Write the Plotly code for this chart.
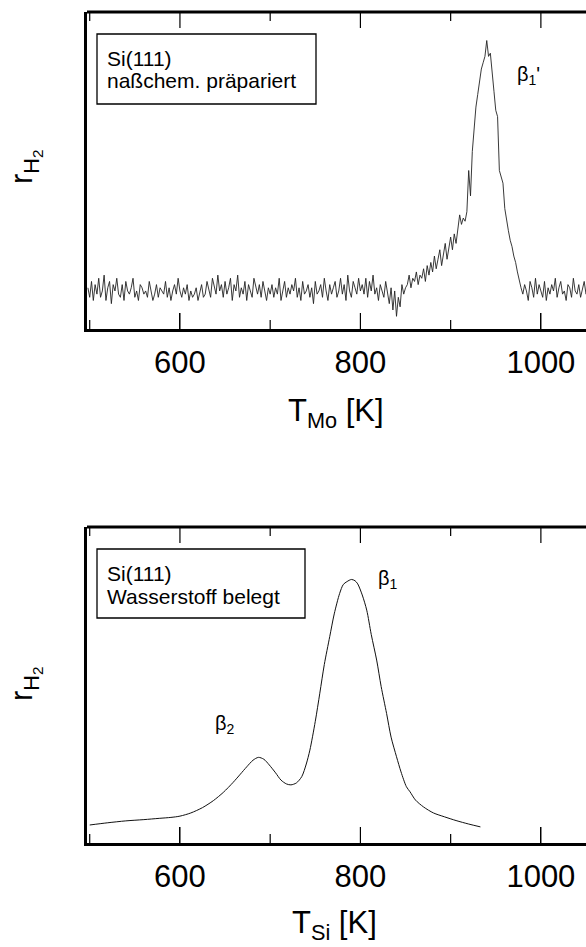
import plotly.graph_objects as go

# ---------------- data ----------------
# top panel: Si(111) wet-chemically prepared, T_Mo [K], sampled every 2 K
top_start = 498
top_step = 2
top_seg_a = [13,10,15,9,14,11,16,10,12,17,9,13,15,8,14,12,16,11,10,14,9,15,12,11,13,16,
             10,12,9,14,13,11,12,10,15,12,9,11,14,10,13,12,11,15,10,13,9,12,14,11,16,12]
top_seg_b = [10,13,11,14,9,12,10,11,13,9,12,14,10,11,15,12,10,16,13,11,17,12,14,10,15,
             11,13,16,9,14,12,17,10,13,11,15,9,14,12,10,16,13,11,14,10,15,12,9,13,11]
top_seg_c = [14,10,13,11,16,9,12,15,10,13,11,14,12,16,10,13,9,15,11,12,14,10,13,8,15,
             11,12,14,10,16,12,9,14,11,13,15,10,12,16,11,14,9,17,12,10,15,13,11,16,12]
top_seg_d = [14,11,16,10,15,12,17,11,13,9,14,12,10,15,11,8,13,6,12,4,10,7,14,11,13]
top_seg_e = [14,17,13,16,15,18,14,17,16,19,15,20,17,21,18,23,19,22,25,20,24,27,22,26,
             29,25,30,27,32,36,33,35,34,37,50,42,56,63,70,74,78,82,84,86,91,86,87,82,
             75,69,67,50,48,46,38,34,31,28,26,23,21,18,15,13]
top_seg_f = [11,14,12,9,15,13,10,16,11,14,12,10,15,9,13,11,14,12,16,10,13,15,11,12,9,
             14,13,10,16,12,11,14,10,13,15,11,12,14,10,13,12]
top_y = top_seg_a + top_seg_b + top_seg_c + top_seg_d + top_seg_e + top_seg_f
top_x = [top_start + top_step * i for i in range(len(top_y))]

# bottom panel: Si(111) hydrogen covered, T_Si [K]
bot_x = [500, 520, 540, 560, 577, 590, 600, 612, 625, 637, 648, 659, 667, 674, 681, 687,
         693, 699, 706, 712, 718, 723, 729, 735, 740, 744, 750, 755, 760, 766, 771, 777,
         781, 785, 790, 794, 797, 802, 807, 812, 818, 823, 829, 834, 840, 845, 851, 855,
         861, 870, 881, 893, 906, 920, 933]
bot_y = [5.7, 6.4, 7.0, 7.4, 7.8, 8.1, 8.5, 9.5, 11.2, 13.4, 16.0, 19.2, 21.8, 24.1, 26.2, 27.1,
         26.5, 24.7, 22.2, 19.9, 18.7, 18.4, 19.0, 21.0, 25.0, 29.4, 38.5, 47.4, 56.5, 65.3, 72.5, 79.0,
         81.8, 82.7, 83.4, 83.0, 82.0, 78.5, 73.7, 66.0, 57.9, 49.5, 41.0, 33.5, 27.3, 22.5, 17.8, 16.2,
         13.6, 11.4, 9.5, 8.3, 7.1, 6.0, 5.1]

x_range = [497, 1050]
major_ticks = [600, 800, 1000]
minor_ticks = [500, 700, 900]
top_title = "T<sub>Mo</sub> [K]"
bot_title = "T<sub>Si</sub> [K]"
y_title = "r<sub>H<sub>2</sub></sub>"
top_box = ["Si(111)", "naßchem. präpariert"]
bot_box = ["Si(111)", "Wasserstoff belegt"]

# ---------------- layout helpers ----------------
W, H = 586, 947
FONT = "Liberation Sans, Arial, sans-serif"

def px(x):
    return x / W

def py(y):
    return 1 - y / H

PANELS = [(12, 329), (527, 843)]          # pixel top / bottom of each frame
top_dom = [py(329), py(12)]
bot_dom = [py(843), py(527)]
xdom = [px(87), 1]

fig = go.Figure()
fig.add_trace(go.Scatter(x=top_x, y=top_y, mode="lines", xaxis="x", yaxis="y",
                         line=dict(color="#222", width=0.9), showlegend=False))
fig.add_trace(go.Scatter(x=bot_x, y=bot_y, mode="lines", xaxis="x2", yaxis="y2",
                         line=dict(color="#111", width=1, shape="spline", smoothing=0.8),
                         showlegend=False))

xax = dict(range=x_range, showline=True, linewidth=3, linecolor="black",
           ticks="inside", ticklen=16, tickcolor="black",
           tickvals=major_ticks, ticklabelstandoff=4,
           tickfont=dict(family=FONT, size=31, color="black"),
           showgrid=False, zeroline=False)
yax = dict(range=[0, 100], showline=True, linewidth=3, linecolor="black", mirror=False,
           showticklabels=False, showgrid=False, zeroline=False)

fig.update_layout(
    width=W, height=H, margin=dict(l=0, r=0, t=0, b=0),
    paper_bgcolor="white", plot_bgcolor="white",
    xaxis=dict(xax, domain=xdom, anchor="y"),
    yaxis=dict(yax, domain=top_dom, anchor="x"),
    xaxis2=dict(xax, domain=xdom, anchor="y2"),
    yaxis2=dict(yax, domain=bot_dom, anchor="x2"),
)

shapes = []
# top frame line + all tick marks, x placed on the data axis scale
for xr, (ytop, ybot) in zip(["x", "x2"], PANELS):
    shapes.append(dict(type="line", xref="paper", yref="paper", x0=xdom[0], x1=1,
                       y0=py(ytop), y1=py(ytop), line=dict(color="black", width=3)))
    for v in major_ticks:
        shapes.append(dict(type="line", xref=xr, yref="paper", x0=v, x1=v,
                           y0=py(ytop), y1=py(ytop + 16), line=dict(color="black", width=1.2)))
        shapes.append(dict(type="line", xref=xr, yref="paper", x0=v, x1=v,
                           y0=py(ybot), y1=py(ybot - 16), line=dict(color="black", width=1.2)))
    for v in minor_ticks:
        shapes.append(dict(type="line", xref=xr, yref="paper", x0=v, x1=v,
                           y0=py(ytop), y1=py(ytop + 9), line=dict(color="black", width=1.2)))
        shapes.append(dict(type="line", xref=xr, yref="paper", x0=v, x1=v,
                           y0=py(ybot), y1=py(ybot - 9), line=dict(color="black", width=1.2)))

ann = []
def text(x, y, s, size, **kw):
    d = dict(x=px(x), y=py(y), xref="paper", yref="paper", text=s, showarrow=False,
             font=dict(family=FONT, size=size, color="black"), xanchor="left",
             yanchor="middle")
    d.update(kw)
    ann.append(d)

# axis titles
text(336, 413, top_title, 31, xanchor="center")
text(334, 925, bot_title, 31, xanchor="center")
text(25, 167, y_title, 31, xanchor="center", textangle=-90)
text(25, 684, y_title, 31, xanchor="center", textangle=-90)

# boxes
def box(x0, y0, x1, y1):
    shapes.append(dict(type="rect", xref="paper", yref="paper", x0=px(x0), x1=px(x1),
                       y0=py(y1), y1=py(y0), line=dict(color="black", width=1.3)))

box(97, 34, 316, 104)
text(105, 58, top_box[0], 21)
text(105, 81, top_box[1], 21)
box(97, 549, 305, 618)
text(105, 573, bot_box[0], 21)
text(105, 596, bot_box[1], 21)

# peak labels
text(515, 75, "β<sub>1</sub>'", 20)
text(376, 579, "β<sub>1</sub>", 20)
text(213, 724, "β<sub>2</sub>", 20)

fig.update_layout(annotations=ann, shapes=shapes)
fig.write_html("out.html")
